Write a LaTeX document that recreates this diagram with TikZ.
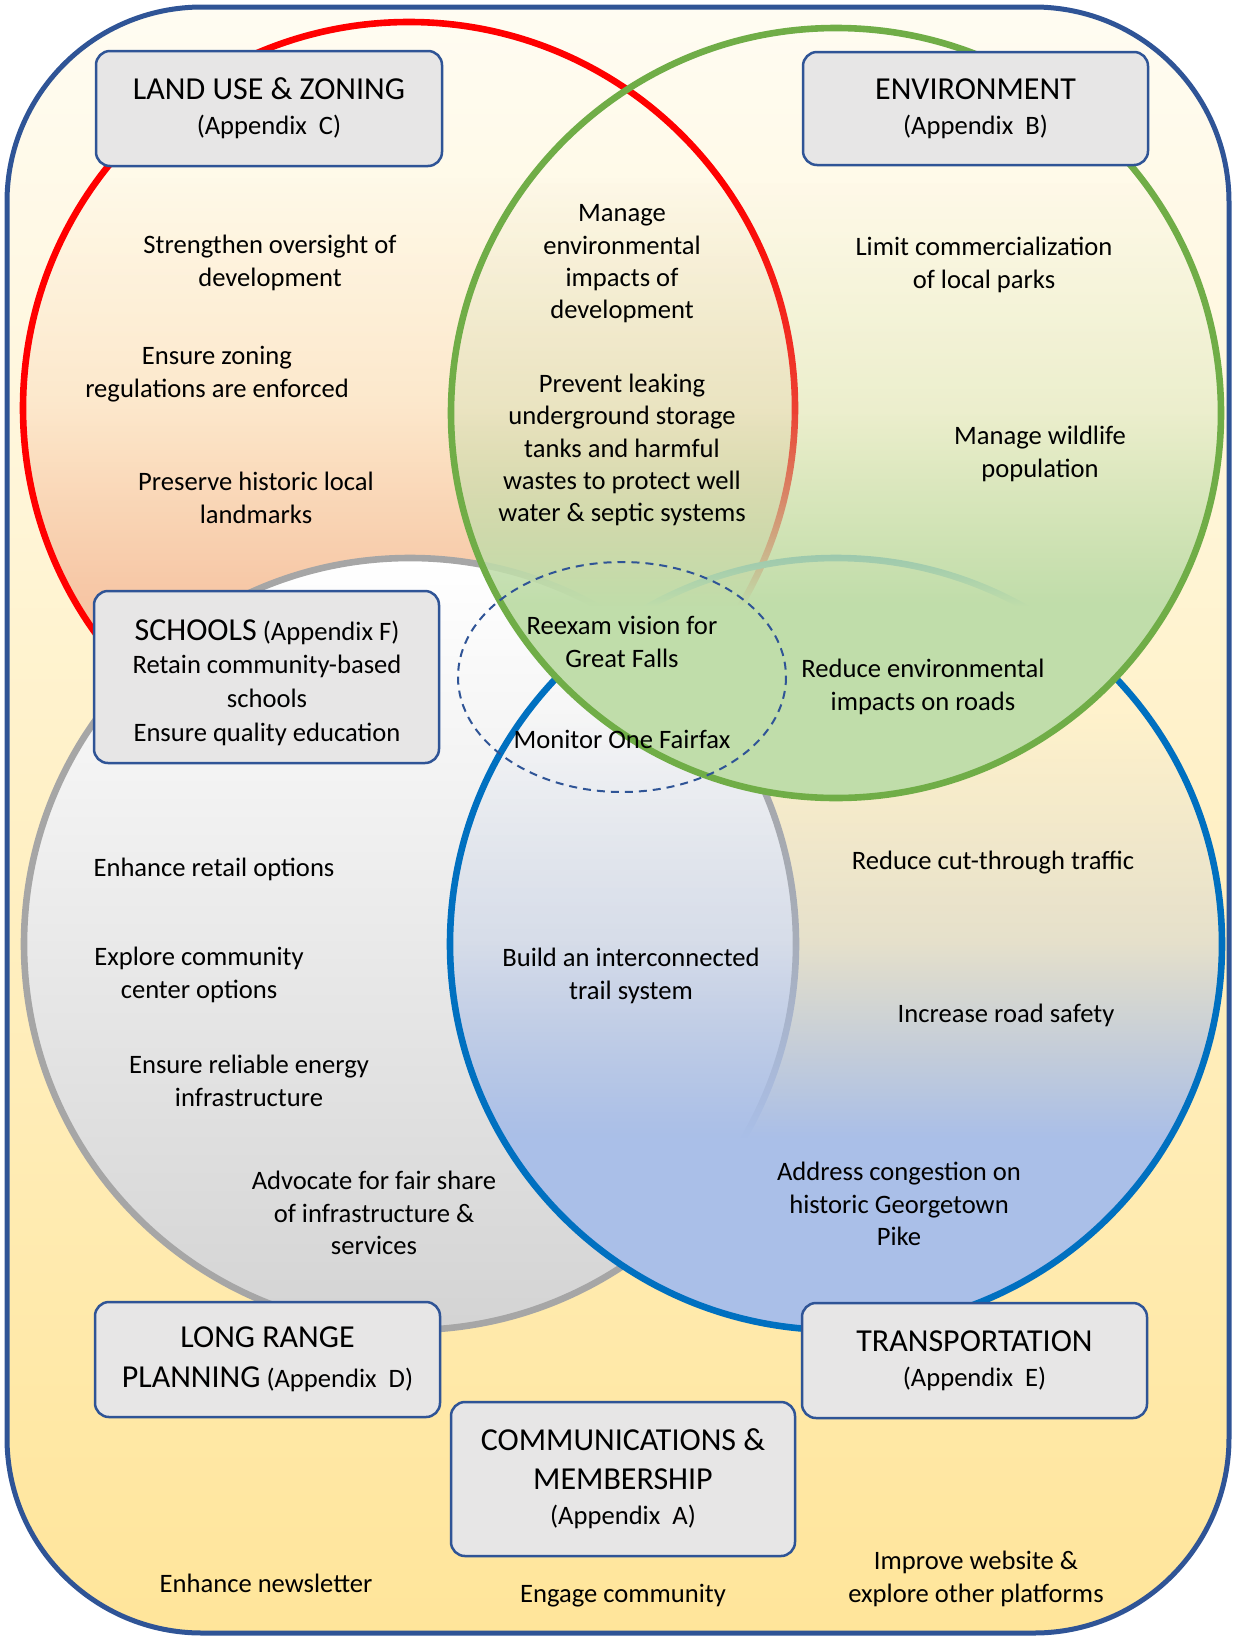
\documentclass[tikz,border=0pt]{standalone}
\usepackage{fontspec}
\setmainfont{Carlito}
\usetikzlibrary{fadings}
\definecolor{boxblue}{HTML}{2F5496}
\definecolor{boxgray}{HTML}{E7E6E6}
\definecolor{redc}{HTML}{FF0000}
\definecolor{greenc}{HTML}{70AD47}
\definecolor{grayc}{HTML}{A6A6A6}
\definecolor{bluec}{HTML}{0070C0}
\definecolor{peach}{HTML}{F7C6A5}
\definecolor{greenfill}{HTML}{C0DDAA}
\definecolor{bluefill}{HTML}{AABFE8}
\definecolor{bgtop}{HTML}{FFFCF2}
\definecolor{bgbot}{HTML}{FFE59A}
% the central 50bp x 50bp of a fading is fitted to the path's bounding box
\begin{tikzfadingfrompicture}[name=vfade]
  \fill[transparent!0] (-50bp,-50bp) rectangle (50bp,-12.3bp);
  \shade[bottom color=transparent!0, top color=transparent!70] (-50bp,-12.5bp) rectangle (50bp,0.2bp);
  \shade[bottom color=transparent!70, top color=transparent!100] (-50bp,0bp) rectangle (50bp,15bp);
  \path (-50bp,-50bp) rectangle (50bp,50bp);
\end{tikzfadingfrompicture}
\tikzset{
  bdy/.style={font=\fontsize{13.3}{16.2}\selectfont, align=center, inner sep=0pt, yshift=-1pt},
  boxnode/.style={draw=boxblue, fill=boxgray, line width=1.25pt, rounded corners=7pt,
    align=center, inner sep=0pt},
  ring/.style={line width=3.3pt}
}
\newcommand{\ttlf}{\fontsize{16}{19}\selectfont}
\begin{document}
\begin{tikzpicture}[x=0.5pt,y=-0.5pt]
\useasboundingbox (0,0) rectangle (1236,1639);
% background
\shade[top color=bgtop, bottom color=bgbot, rounded corners=97.5pt]
  (7,7) rectangle (1229,1633);
% red circle
\fill[peach, path fading=vfade] (409,408) circle [radius=386];
\draw[ring, redc] (409,408) circle [radius=386];
% gray circle
\shade[top color=white, bottom color=black!17] (410,944) circle [radius=386];
\draw[ring, grayc] (410,944) circle [radius=386];
% blue circle
\fill[bluefill, path fading=vfade] (836,944) circle [radius=386];
\draw[ring, bluec] (836,944) circle [radius=386];
% green circle
\fill[greenfill, path fading=vfade] (836,413) circle [radius=385];
\draw[ring, greenc] (836,413) circle [radius=385];
% dashed ellipse
\draw[boxblue, line width=1pt, dash pattern=on 4pt off 3pt]
  (622,677) ellipse [x radius=164, y radius=115];
% outer border
\draw[boxblue, line width=2.5pt, rounded corners=97.5pt] (7,7) rectangle (1229,1633);
% boxes
\node[boxnode, minimum width=173pt, minimum height=57.5pt,
  font=\fontsize{13.3}{17.5}\selectfont] (lu) at (269,108.5)
  {{\ttlf LAND USE \& ZONING}\\(Appendix~~C)};
\node[boxnode, minimum width=172.5pt, minimum height=56.5pt,
  font=\fontsize{13.3}{17.5}\selectfont] (env) at (975.5,108.5)
  {{\ttlf ENVIRONMENT}\\(Appendix~~B)};
\node[boxnode, minimum width=172.5pt, minimum height=86pt] (sch) at (266.5,677) {};
\node[align=center, inner sep=0pt, font=\fontsize{13.3}{16.8}\selectfont] (scht) at (267,682.5)
  {{\ttlf SCHOOLS} (Appendix F)\\Retain community-based\\schools\\Ensure quality education};
\node[boxnode, minimum width=172.5pt, minimum height=57.5pt,
  font=\fontsize{13.3}{20}\selectfont] (lrp) at (267.5,1359.5)
  {{\ttlf LONG RANGE}\\{\ttlf PLANNING} (Appendix~~D)};
\node[boxnode, minimum width=172.5pt, minimum height=57.5pt,
  font=\fontsize{13.3}{17.5}\selectfont] (trn) at (974.5,1360.5)
  {{\ttlf TRANSPORTATION}\\(Appendix~~E)};
\node[boxnode, minimum width=172pt, minimum height=77pt,
  font=\fontsize{13.3}{17.5}\selectfont] (com) at (623,1479)
  {{\ttlf COMMUNICATIONS \&}\\[2pt]{\ttlf MEMBERSHIP}\\(Appendix~~A)};
% texts
\node[bdy] (t1) at (270,261) {Strengthen oversight of\\development};
\node[bdy] (t2) at (217,372) {Ensure zoning\\regulations are enforced};
\node[bdy] (t3) at (256,496) {Preserve historic local\\landmarks};
\node[bdy] (t4) at (622,262) {Manage\\environmental\\impacts of\\development};
\node[bdy] (t5) at (622,448) {Prevent leaking\\underground storage\\tanks and harmful\\wastes to protect well\\water \& septic systems};
\node[bdy] (t6) at (984,263) {Limit commercialization\\of local parks};
\node[bdy] (t7) at (1040,452) {Manage wildlife\\population};
\node[bdy] (t8) at (622,640) {Reexam vision for\\Great Falls};
\node[bdy] (t9) at (622,737) {Monitor One Fairfax};
\node[bdy] (t10) at (923,685) {Reduce environmental\\impacts on roads};
\node[bdy] (t11) at (214,867) {Enhance retail options};
\node[bdy] (t12) at (199,973) {Explore community\\center options};
\node[bdy] (t13) at (249,1079) {Ensure reliable energy\\infrastructure};
\node[bdy] (t14) at (374,1211) {Advocate for fair share\\of infrastructure \&\\services};
\node[bdy] (t15) at (631,974) {Build an interconnected\\trail system};
\node[bdy] (t16) at (993,861) {Reduce cut-through traffic};
\node[bdy] (t17) at (1006,1013) {Increase road safety};
\node[bdy] (t18) at (899,1202) {Address congestion on\\historic Georgetown\\Pike};
\node[bdy] (t19) at (266,1581) {Enhance newsletter};
\node[bdy] (t20) at (623,1594) {Engage community};
\node[bdy] (t21) at (976,1577) {Improve website \&\\explore other platforms};
\end{tikzpicture}
\end{document}
